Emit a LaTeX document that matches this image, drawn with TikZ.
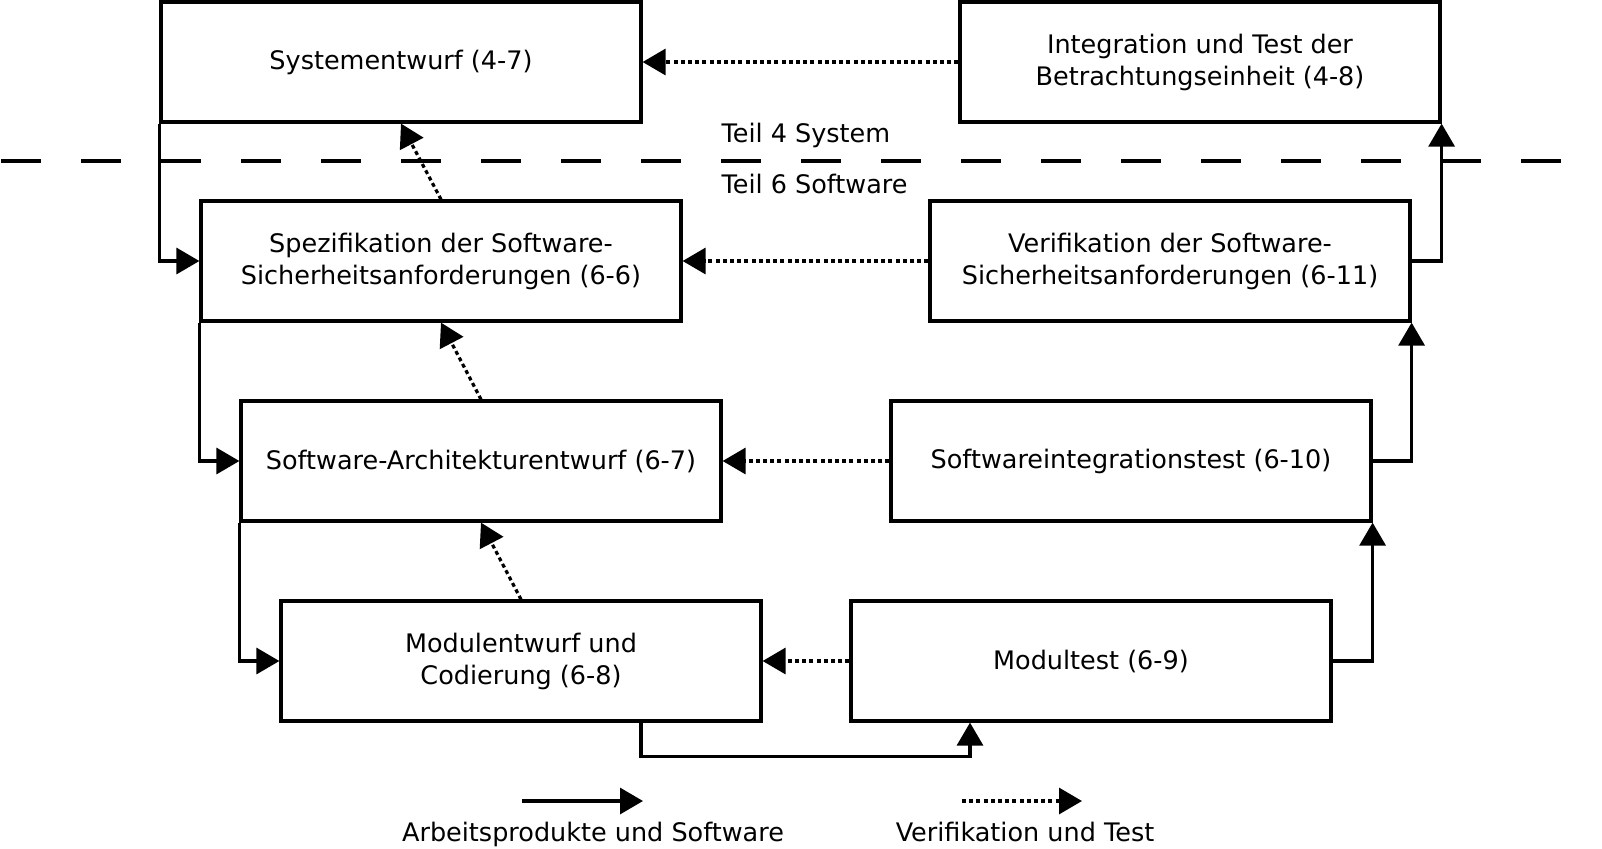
\documentclass[tikz,border=0pt]{standalone}
\usepackage{fontspec}
\setmainfont{DejaVu Sans}
\usetikzlibrary{arrows.meta}

\begin{document}
\begin{tikzpicture}[x=0.5pt, y=-0.5pt, line width=1.6pt,
	every node/.style={font=\fontsize{12.75}{16}\selectfont},
	box/.style={draw, rectangle, minimum width=240pt, minimum height=60pt, align=center, inner sep=0pt},
	flow/.style={-{Triangle[length=11.5pt,width=13pt]}},
	check/.style={flow, dash pattern=on 2pt off 1.6pt}]
	\useasboundingbox (0,0) rectangle (1602,848);
	\node[box] (sys)   at (401,62)   {Systementwurf (4-7)};
	\node[box] (itest) at (1200,62)  {Integration und Test der\\Betrachtungseinheit (4-8)};
	\node[box] (spec)  at (441,261)  {Spezifikation der Software-\\Sicherheitsanforderungen (6-6)};
	\node[box] (verif) at (1170,261) {Verifikation der Software-\\Sicherheitsanforderungen (6-11)};
	\node[box] (arch)  at (481,461)  {Software-Architekturentwurf (6-7)};
	\node[box] (swint) at (1131,461) {Softwareintegrationstest (6-10)};
	\node[box] (mod)   at (521,661)  {Modulentwurf und\\Codierung (6-8)};
	\node[box] (mtest) at (1091,661) {Modultest (6-9)};
	% Grenze System / Software
	\draw[dash pattern=on 20pt off 20pt] (1,161) -- (1561,161);
	\node[anchor=base west, inner sep=0pt] (teil4) at (720,142) {Teil 4 System};
	\node[anchor=base west, inner sep=0pt] (teil6) at (720,193) {Teil 6 Software};
	% Arbeitsprodukte
	\draw[flow] (sys.south west) |- (spec.west);
	\draw[flow] (spec.south west) |- (arch.west);
	\draw[flow] (arch.south west) |- (mod.west);
	\draw[flow] ([xshift=60pt]mod.south) -- ++(0,34) -| ([xshift=-60.5pt]mtest.south);
	\draw[flow] (mtest.east) -| (swint.south east);
	\draw[flow] (swint.east) -| (verif.south east);
	\draw[flow] (verif.east) -| (itest.south east);
	% Verifikation
	\foreach \from/\to in {itest/sys, verif/spec, swint/arch, mtest/mod}
		\draw[check] (\from.west) -- (\to.east);
	\foreach \from/\to in {spec/sys, arch/spec, mod/arch}
		\draw[check] (\from.north) -- (\to.south);
	% Legende
	\node[anchor=base, inner sep=0pt] (lwork) at (593,841) {Arbeitsprodukte und Software};
	\node[anchor=base, inner sep=0pt] (ltest) at (1025,841) {Verifikation und Test};
	\coordinate (lw1) at (522,801);
	\coordinate (lw2) at (643,801);
	\coordinate (lt1) at (962,801);
	\coordinate (lt2) at (1082,801);
	\draw[flow] (lw1) -- (lw2);
	\draw[check] (lt1) -- (lt2);
\end{tikzpicture}
\end{document}
